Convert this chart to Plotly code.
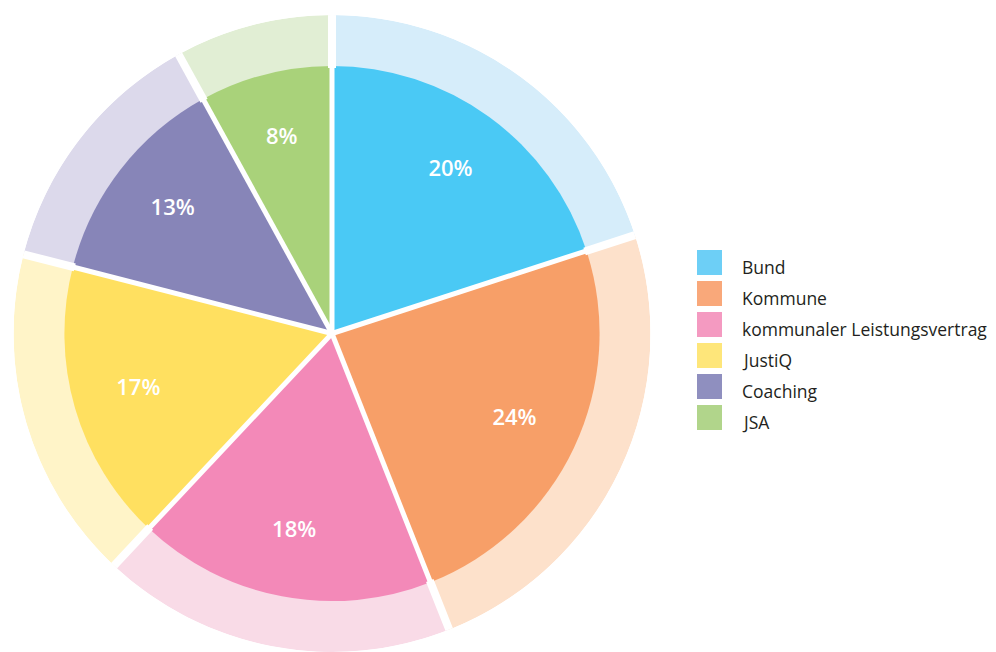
import numpy as np
import plotly.graph_objects as go

labels = ["Bund", "Kommune", "kommunaler Leistungsvertrag", "JustiQ", "Coaching", "JSA"]
values = [20, 24, 18, 17, 13, 8]
colors_inner = ["#4ac9f5", "#f79f68", "#f389b8", "#ffe060", "#8785b8", "#a9d27a"]
colors_outer = ["#d6edfa", "#fde1cb", "#f9dbe7", "#fff4c8", "#dcd9eb", "#e1eed4"]
colors_legend = ["#6dcff6", "#f9a87a", "#f49ac1", "#fee67a", "#8f8fbf", "#b1d58b"]

W, H = 996, 652
cx, cy = 332, 318          # centre, px from left / bottom
R_OUT, R_IN, R_TXT = 319, 268, 202

vals = np.array(values, dtype=float)
widths = vals / vals.sum() * 360.0
ends = np.cumsum(widths)
starts = ends - widths
centers = starts + widths / 2

fig = go.Figure()
fig.add_trace(go.Barpolar(
    r=[R_OUT] * len(values), theta=centers, width=widths,
    marker=dict(color=colors_outer, line=dict(width=0)),
    hoverinfo="skip", showlegend=False,
))
fig.add_trace(go.Barpolar(
    r=[R_IN] * len(values), theta=centers, width=widths,
    marker=dict(color=colors_inner, line=dict(width=0)),
    text=labels, hovertemplate="%{text}: %{customdata}%<extra></extra>",
    customdata=values, showlegend=False,
))
# white separators between slices
sep_r_in, sep_t_in, sep_r_out, sep_t_out = [], [], [], []
for b in starts:
    sep_r_in += [0, R_IN, None]
    sep_t_in += [b, b, None]
    sep_r_out += [R_IN - 2, R_OUT, None]
    sep_t_out += [b, b, None]
fig.add_trace(go.Scatterpolar(r=sep_r_in, theta=sep_t_in, mode="lines",
                              line=dict(color="white", width=5),
                              hoverinfo="skip", showlegend=False))
fig.add_trace(go.Scatterpolar(r=sep_r_out, theta=sep_t_out, mode="lines",
                              line=dict(color="white", width=8),
                              hoverinfo="skip", showlegend=False))
fig.add_trace(go.Scatterpolar(
    r=[R_TXT] * len(values), theta=centers, mode="text",
    text=[f"{v}%" for v in values],
    textfont=dict(color="white", size=22, family="Open Sans", weight=600),
    hoverinfo="skip", showlegend=False,
))

fig.update_layout(
    polar=dict(
        domain=dict(x=[(cx - R_OUT) / W, (cx + R_OUT) / W], y=[max(0, (cy - R_OUT) / H), (cy + R_OUT) / H]),
        bgcolor="white", barmode="overlay", bargap=0, hole=0,
        radialaxis=dict(range=[0, R_OUT], visible=False),
        angularaxis=dict(rotation=90, direction="clockwise", visible=False),
    ),
)

# custom legend built from the label list
shapes = []
annotations = []
lx0, ly0, sq, step = 697, 250, 25, 31
for i, (lab, col) in enumerate(zip(labels, colors_legend)):
    top = ly0 + i * step
    shapes.append(dict(type="rect", xref="paper", yref="paper",
                       x0=lx0 / W, x1=(lx0 + sq) / W,
                       y0=1 - (top + sq) / H, y1=1 - top / H,
                       fillcolor=col, line=dict(width=0)))
    annotations.append(dict(x=740 / W, y=1 - (top + sq / 2 + 4) / H, xref="paper", yref="paper",
                            text=lab, showarrow=False, xanchor="left", yanchor="middle",
                            font=dict(size=17.5, color="#231f20", family="Open Sans", weight=500)))

fig.update_layout(
    width=W, height=H, margin=dict(l=0, r=0, t=0, b=0),
    paper_bgcolor="white", plot_bgcolor="white",
    shapes=shapes, annotations=annotations,
)
fig.write_html("out.html")
